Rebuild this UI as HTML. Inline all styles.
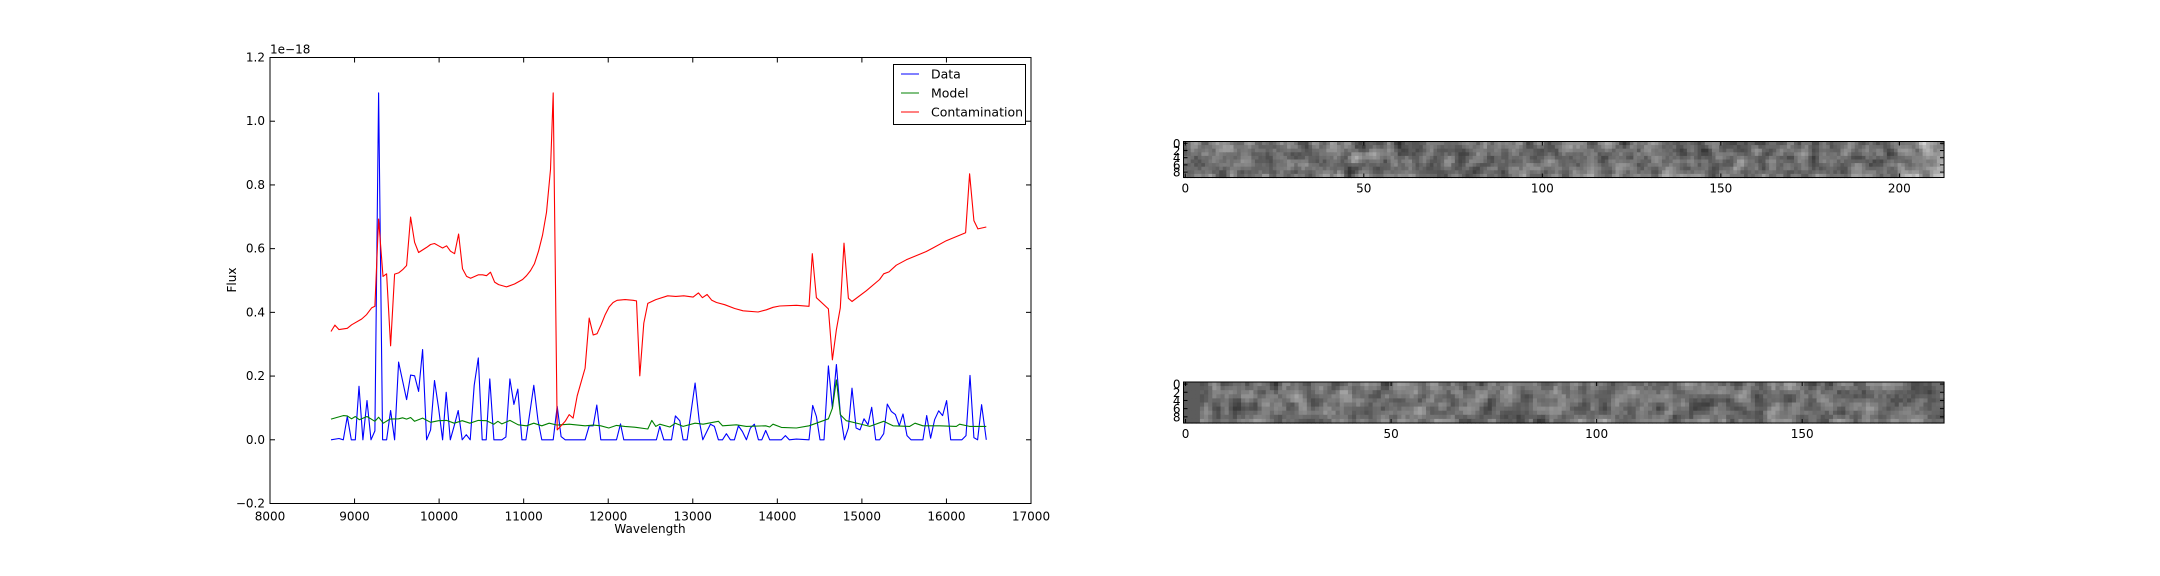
<!DOCTYPE html>
<html><head><meta charset="utf-8"><style>
html,body{margin:0;padding:0;background:#fff;width:2160px;height:576px;overflow:hidden}
svg text{font-family:"DejaVu Sans","Liberation Sans",sans-serif;font-size:12px;fill:#000}
</style></head><body>
<svg id="fig" width="2160" height="576" xmlns="http://www.w3.org/2000/svg">
<g id="chart"></g>
<g id="imgs"></g>
</svg>
<script>
const xTicks=[8000,9000,10000,11000,12000,13000,14000,15000,16000,17000];
const yTicks=[-0.2,0.0,0.2,0.4,0.6,0.8,1.0,1.2];
const yTickLabels=["\u22120.2","0.0","0.2","0.4","0.6","0.8","1.0","1.2"];
const contamWl=[8721,8768,8816,8914,8965,9084,9143,9202,9241,9284,9336,9379,9426,9474,9521,9568,9615,9663,9710,9757,9852,9899,9946,9994,10041,10088,10135,10183,10230,10277,10325,10372,10466,10514,10561,10608,10656,10703,10797,10892,10987,11034,11081,11128,11176,11223,11270,11317,11349,11396,11443,11491,11538,11585,11633,11727,11775,11822,11869,11916,11964,12011,12058,12105,12200,12295,12334,12373,12421,12468,12563,12704,12799,12894,13004,13067,13114,13169,13225,13280,13378,13496,13595,13772,13871,13950,14028,14225,14375,14414,14462,14604,14651,14698,14745,14789,14840,14883,15053,15210,15258,15321,15407,15525,15762,15840,15998,16227,16274,16325,16372,16471];
const contamVal=[0.340,0.360,0.346,0.350,0.361,0.379,0.393,0.414,0.419,0.693,0.513,0.521,0.295,0.520,0.524,0.534,0.547,0.699,0.620,0.588,0.604,0.613,0.616,0.609,0.602,0.609,0.592,0.584,0.646,0.537,0.513,0.507,0.518,0.518,0.515,0.526,0.495,0.487,0.480,0.489,0.503,0.515,0.531,0.553,0.592,0.642,0.714,0.848,1.089,0.031,0.044,0.058,0.079,0.068,0.138,0.225,0.382,0.329,0.333,0.361,0.393,0.417,0.431,0.438,0.440,0.438,0.436,0.201,0.366,0.428,0.440,0.452,0.450,0.452,0.448,0.461,0.446,0.456,0.438,0.431,0.424,0.412,0.405,0.401,0.408,0.416,0.420,0.422,0.419,0.584,0.446,0.411,0.251,0.346,0.414,0.617,0.444,0.434,0.468,0.503,0.521,0.527,0.548,0.565,0.591,0.602,0.625,0.650,0.835,0.688,0.662,0.668];
const dataWl=[8721,8816,8867,8914,8961,9009,9052,9099,9147,9194,9241,9284,9332,9379,9426,9474,9521,9615,9663,9710,9757,9805,9852,9899,9946,9994,10041,10084,10132,10179,10226,10273,10321,10368,10415,10463,10510,10557,10600,10648,10742,10790,10837,10884,10931,10979,11026,11120,11168,11215,11349,11396,11443,11491,11727,11775,11822,11865,11912,12098,12145,12184,12570,12610,12657,12748,12795,12846,12886,12933,13028,13075,13118,13209,13256,13303,13351,13398,13445,13492,13540,13587,13634,13682,13729,13776,13816,13863,13910,14048,14095,14142,14225,14375,14418,14462,14505,14552,14604,14651,14698,14745,14793,14840,14883,14931,14978,15025,15072,15116,15163,15210,15258,15301,15348,15396,15443,15486,15533,15581,15722,15766,15813,15860,15908,15955,16002,16050,16183,16231,16278,16325,16369,16416,16471];
const dataVal=[0,0.004,0,0.073,0,0,0.168,0,0.123,0,0.028,1.089,0,0,0.092,0,0.244,0.126,0.203,0.201,0.152,0.283,0,0.031,0.186,0.099,0,0.149,0,0.044,0.092,0,0.016,0,0.171,0.257,0,0,0.191,0,0,0.009,0.191,0.111,0.159,0,0,0.171,0.063,0,0,0.105,0.01,0,0,0.044,0.044,0.109,0,0,0.05,0,0,0.042,0,0,0.075,0.060,0,0,0.178,0.063,0,0.049,0.042,0,0,0.019,0,0,0.044,0.026,0,0.037,0.049,0,0,0.029,0,0,0.013,0,0.002,0,0.108,0.073,0,0,0.232,0.099,0.236,0.084,0,0.037,0.162,0.037,0.031,0.066,0.047,0.102,0,0,0.019,0.112,0.089,0.079,0.044,0.081,0.013,0,0,0.076,0.005,0.063,0.091,0.076,0.123,0,0,0.013,0.202,0.007,0,0.110,0];
const modelWl=[8721,8867,8914,8965,9009,9056,9147,9241,9284,9340,9418,9521,9568,9615,9663,9710,9805,9899,9994,10088,10179,10273,10364,10463,10561,10648,10695,10742,10837,10935,11034,11120,11215,11302,11396,11538,11727,11822,11912,12007,12098,12196,12334,12468,12515,12563,12610,12728,12795,12886,13028,13122,13303,13351,13516,13634,13863,13910,13949,14048,14225,14375,14462,14604,14651,14698,14745,14816,14974,15092,15258,15368,15565,15628,15722,15920,16117,16156,16274,16471];
const modelVal=[0.065,0.076,0.075,0.066,0.073,0.063,0.073,0.058,0.071,0.052,0.065,0.066,0.069,0.065,0.070,0.058,0.068,0.055,0.060,0.061,0.052,0.060,0.052,0.061,0.060,0.049,0.058,0.050,0.061,0.047,0.044,0.052,0.044,0.052,0.046,0.049,0.044,0.046,0.044,0.037,0.045,0.042,0.039,0.034,0.061,0.042,0.049,0.040,0.052,0.042,0.052,0.049,0.058,0.044,0.047,0.042,0.044,0.040,0.049,0.039,0.037,0.044,0.052,0.066,0.099,0.188,0.079,0.060,0.050,0.042,0.058,0.044,0.042,0.052,0.044,0.044,0.042,0.049,0.042,0.042];
const img1XTicks=[0,50,100,150,200];
const img2XTicks=[0,50,100,150];
const imgYTicks=[0,2,4,6,8];

const NS="http://www.w3.org/2000/svg";
function mk(parent,tag,attrs,txt){const e=document.createElementNS(NS,tag);for(const k in attrs)e.setAttribute(k,attrs[k]);if(txt!==undefined)e.textContent=txt;parent.appendChild(e);return e;}
const L=270,R=1031,T=57.5,B=503.5;
const xMin=8000,xMax=17000,yMin=-0.2,yMax=1.2;
const X=v=>L+(v-xMin)/(xMax-xMin)*(R-L);
const Y=v=>B-(v-yMin)/(yMax-yMin)*(B-T);
const chart=document.getElementById('chart');

function series(wl,vals,color,name){
  let d='';for(let i=0;i<wl.length;i++)d+=(i?'L':'M')+X(wl[i]).toFixed(1)+','+Y(vals[i]).toFixed(1);
  const p=mk(chart,'path',{d:d,fill:'none',stroke:color,'stroke-width':1.1,'stroke-linejoin':'round'});
  
  
}
series(dataWl,dataVal,'#0000ff','data-line');
series(modelWl,modelVal,'#008000','model-line');
series(contamWl,contamVal,'#ff0000','contamination-line');

const frame=mk(chart,'rect',{x:L,y:T,width:R-L,height:B-T,fill:'none',stroke:'#000','stroke-width':1});


xTicks.forEach(v=>{
  const x=X(v);
  mk(chart,'line',{x1:x,x2:x,y1:B,y2:B-5,stroke:'#000'});
  mk(chart,'line',{x1:x,x2:x,y1:T,y2:T+5,stroke:'#000'});
  const t=mk(chart,'text',{x:x,y:B+17,'text-anchor':'middle'},String(v));
  
  
});
yTicks.forEach((v,i)=>{
  const y=Y(v);
  mk(chart,'line',{x1:L,x2:L+5,y1:y,y2:y,stroke:'#000'});
  mk(chart,'line',{x1:R,x2:R-5,y1:y,y2:y,stroke:'#000'});
  const t=mk(chart,'text',{x:L-5,y:y+4,'text-anchor':'end'},yTickLabels[i]);
  
  
});
let t=mk(chart,'text',{x:L,y:T-4},'1e\u221218');


t=mk(chart,'text',{x:650,y:533,'text-anchor':'middle'},'Wavelength');


t=mk(chart,'text',{x:0,y:0,'text-anchor':'middle',transform:'translate(236,280) rotate(-90)'},'Flux');



// legend
const lg=mk(chart,'g',{});


mk(lg,'rect',{x:893.5,y:64.5,width:132,height:60,fill:'#fff',stroke:'#000','stroke-width':1});
[['Data','#0000ff'],['Model','#008000'],['Contamination','#ff0000']].forEach((e,i)=>{
  const y=74+i*19;
  const g=mk(lg,'g',{});
  
  
  mk(g,'line',{x1:901,x2:919,y1:y,y2:y,stroke:e[1],'stroke-width':1.1});
  mk(g,'text',{x:931,y:y+4.5,style:'font-size:12.5px'},e[0]);
});

// images (noise texture, smoothed)
const imgs=document.getElementById('imgs');
let seed=12345;
function rnd(){seed=(seed*1103515245+12345)%2147483648;return seed/2147483648;}
function panel(top,h,cols,xticks,name,variant){
  const left=1183.5,w=760.5,rows=10;
  const g=mk(imgs,'g',{});
  
  
  const raw=[];
  for(let r=0;r<rows;r++){raw.push([]);for(let c=0;c<cols;c++)raw[r].push(rnd());}
  const cw=w/cols,rh=h/rows;
  for(let r=0;r<rows;r++)for(let c=0;c<cols;c++){
    let s=0,n=0;
    for(let dr=-1;dr<=1;dr++)for(let dc=-1;dc<=1;dc++){
      const rr=r+dr,cc=c+dc;if(rr<0||rr>=rows||cc<0||cc>=cols)continue;
      const wgt=(dr===0&&dc===0)?2:1;s+=raw[rr][cc]*wgt;n+=wgt;}
    let v=110+(s/n-0.5)*190;
    if(r===rows-1)v+=12;
    if(variant===1&&c>cols-15)v+=55*(c-(cols-15))/15;
    if(variant===2&&c<4)v=92;
    v=Math.max(15,Math.min(235,v));
    const q=Math.round(v);
    mk(g,'rect',{x:(left+c*cw).toFixed(2),y:(top+r*rh).toFixed(2),width:(cw+0.6).toFixed(2),height:(rh+0.6).toFixed(2),fill:`rgb(${q},${q},${q})`});
  }
  mk(g,'rect',{x:left,y:top,width:w,height:h,fill:'none',stroke:'#000','stroke-width':1});
  xticks.forEach(v=>{
    const x=left+(v+0.5)*cw;
    mk(g,'line',{x1:x,x2:x,y1:top+h,y2:top+h-4,stroke:'#000'});
    mk(g,'line',{x1:x,x2:x,y1:top,y2:top+4,stroke:'#000'});
    const tt=mk(g,'text',{x:x,y:top+h+15,'text-anchor':'middle'},String(v));
    
    
  });
  imgYTicks.forEach(v=>{
    const y=top+(v+0.5)*rh;
    mk(g,'line',{x1:left,x2:left+4,y1:y,y2:y,stroke:'#000'});
    mk(g,'line',{x1:left+w,x2:left+w-4,y1:y,y2:y,stroke:'#000'});
    const tt=mk(g,'text',{x:left-3,y:y+4.5,'text-anchor':'end'},String(v));
    
    
  });
}
panel(141.5,36,213,img1XTicks,'image-panel-top',1);
panel(382,41,185,img2XTicks,'image-panel-bottom',2);
</script>
</body></html>
